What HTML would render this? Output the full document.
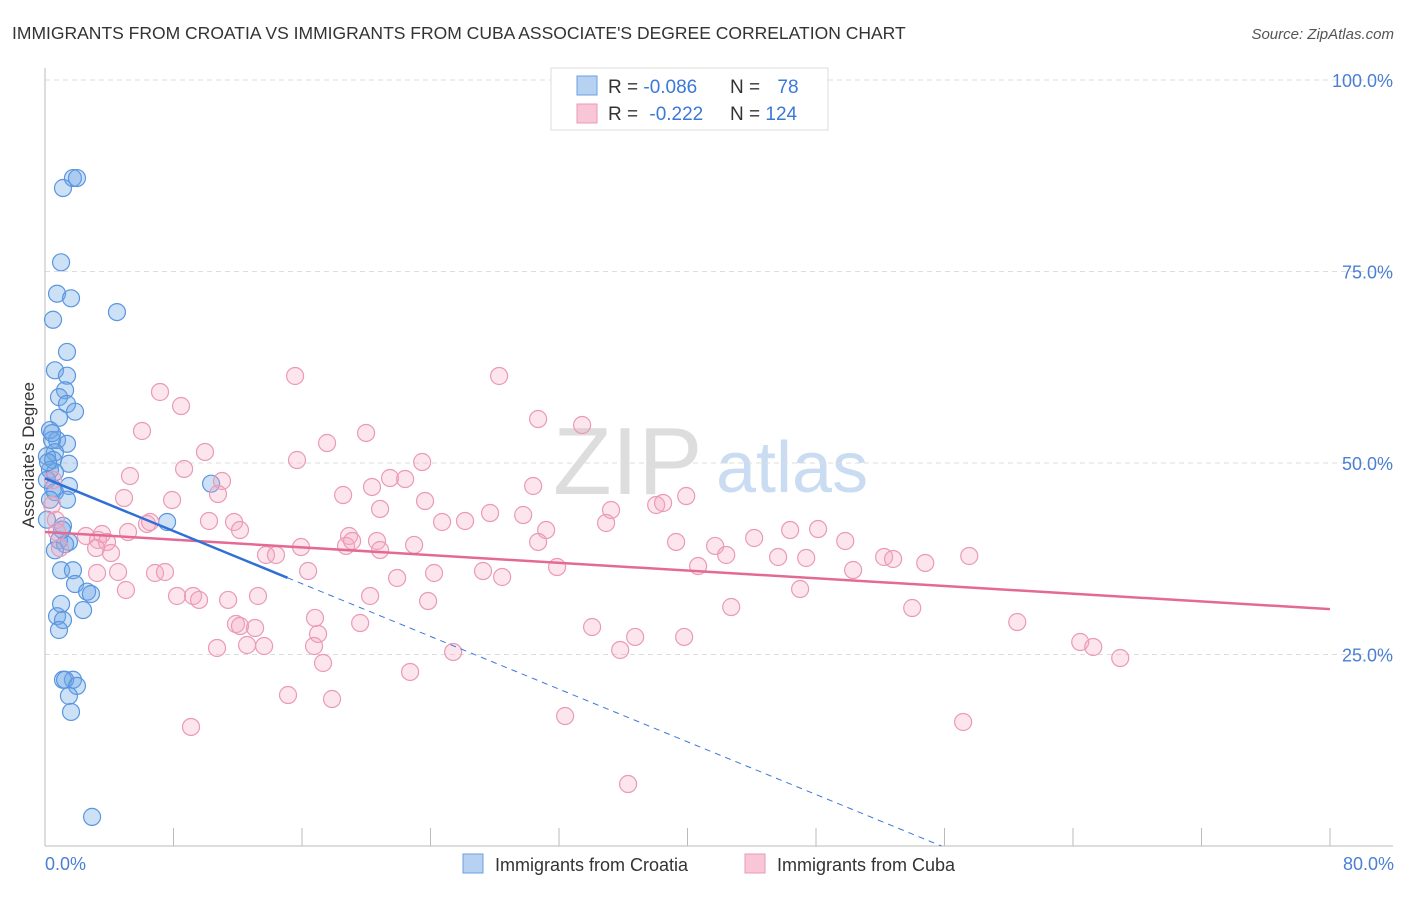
<!DOCTYPE html>
<html><head><meta charset="utf-8"><style>
body{margin:0;background:#fff;font-family:"Liberation Sans",sans-serif}
svg text{font-family:"Liberation Sans",sans-serif}
</style></head><body>
<svg id="chart" width="1406" height="892" viewBox="0 0 1406 892" xmlns="http://www.w3.org/2000/svg">
<text x="12" y="39" font-size="17.5" fill="#333">IMMIGRANTS FROM CROATIA VS IMMIGRANTS FROM CUBA ASSOCIATE'S DEGREE CORRELATION CHART</text>
<text x="1394" y="39" font-size="15" fill="#555" text-anchor="end" font-style="italic">Source: ZipAtlas.com</text>
<g>
<text x="553" y="494" font-size="96" fill="#ddd" font-family="Liberation Serif, serif">ZIP</text>
<text x="716" y="492" font-size="72" fill="#c9dcf2">atlas</text>
</g>
<g id="grid"></g>
<g id="axes"></g>
<g id="marks"></g>
<text transform="translate(34,455) rotate(-90)" font-size="17" fill="#333" text-anchor="middle">Associate's Degree</text>
<text x="45" y="870" font-size="18" fill="#4a7fd4">0.0%</text>
<text x="1394" y="870" font-size="18" fill="#4a7fd4" text-anchor="end">80.0%</text>
<g>
<rect x="551" y="68" width="277" height="62" fill="#fff" stroke="#ddd"/>
<rect x="577" y="76" width="20" height="19" fill="#b7d1f2" stroke="#6a9fe0"/>
<rect x="577" y="104" width="20" height="19" fill="#f8c6d6" stroke="#eb99b6"/>
<text x="608" y="93" font-size="19" fill="#333">R = <tspan fill="#3b78d8">-0.086</tspan></text>
<text x="730" y="93" font-size="19" fill="#333">N = <tspan fill="#3b78d8" dx="12">78</tspan></text>
<text x="608" y="120" font-size="19" fill="#333">R = <tspan fill="#3b78d8" dx="6">-0.222</tspan></text>
<text x="730" y="120" font-size="19" fill="#333">N = <tspan fill="#3b78d8">124</tspan></text>
</g>
<g>
<rect x="463" y="854" width="20" height="19" fill="#b7d1f2" stroke="#6a9fe0"/>
<text x="495" y="871" font-size="18" fill="#333">Immigrants from Croatia</text>
<rect x="745" y="854" width="20" height="19" fill="#f8c6d6" stroke="#eb99b6"/>
<text x="777" y="871" font-size="18" fill="#333">Immigrants from Cuba</text>
</g>
</svg>
<script>
const yTickValues=[25,50,75,100];
const yTickLabels=["25.0%","50.0%","75.0%","100.0%"];
const xTickValues=[0,8,16,24,32,40,48,56,64,72,80];
const croatiaX=[1.12,1.74,1.99,1.0,0.75,1.62,0.5,4.48,1.37,0.62,1.37,1.25,0.87,1.37,1.87,0.87,0.31,0.75,0.44,1.37,0.62,0.12,0.5,1.49,0.31,0.62,0.12,0.5,1.49,0.62,1.37,10.34,7.6,1.12,0.87,1.49,1.25,0.62,1.0,1.74,1.87,2.62,2.86,2.37,1.0,0.75,1.12,0.87,1.74,1.12,1.25,1.99,1.49,1.62,2.93,0.12,0.31,0.44,0.19,1.06];
const croatiaY=[85.9,87.2,87.2,76.2,72.1,71.5,68.7,69.7,64.5,62.1,61.4,59.5,58.6,57.7,56.7,55.9,54.3,53.0,53.0,52.5,51.4,50.9,50.4,49.9,49.1,48.8,47.8,46.7,47.0,46.2,45.2,47.3,42.3,41.8,39.9,39.7,39.4,38.6,36.0,36.0,34.2,33.2,32.9,30.8,31.6,30.0,29.5,28.2,21.7,21.7,21.7,20.9,19.6,17.5,3.8,42.6,45.2,53.9,50.1,41.3];
const cubaX=[7.16,8.47,6.04,9.96,8.66,5.29,11.02,10.77,4.92,7.91,6.35,6.54,10.21,11.77,12.14,3.55,5.17,0.68,0.75,0.44,0.5,0.93,2.55,3.30,3.86,3.18,4.11,4.55,3.24,5.04,6.85,7.47,8.22,9.22,9.59,11.40,11.89,13.26,13.76,14.38,15.94,16.38,12.14,13.08,12.58,10.71,13.64,9.09,15.69,15.57,17.56,18.56,19.99,20.36,20.86,21.48,22.42,20.67,20.86,18.93,21.92,22.98,23.48,23.66,24.22,23.85,24.72,26.15,27.71,27.27,28.46,29.77,30.39,31.20,30.70,31.88,28.27,30.70,33.44,35.24,34.93,34.06,35.81,36.74,38.05,38.48,39.92,39.29,39.79,41.72,42.41,40.66,42.72,44.15,46.39,47.39,45.64,47.01,48.13,49.82,50.31,52.24,52.80,54.80,53.99,57.54,60.53,64.45,65.26,66.94,57.16,32.38,36.30,25.41,22.73,17.31,17.87,15.13,20.24,19.62,17.00,16.75,16.81,18.74,19.12];
const cubaY=[59.27,57.44,54.18,51.44,49.22,48.30,47.65,45.95,45.43,45.17,42.04,42.30,42.43,42.30,41.25,40.73,40.99,42.56,40.99,44.52,47.78,38.90,40.47,39.95,39.69,38.90,38.25,35.77,35.64,33.42,35.64,35.77,32.64,32.64,32.12,32.12,28.98,32.64,37.99,37.99,39.03,35.90,28.72,28.46,26.24,25.85,26.11,15.54,50.39,61.36,52.61,45.82,53.92,46.87,44.00,48.04,47.91,39.82,38.64,40.47,34.99,39.30,50.13,45.04,35.64,31.98,42.30,42.43,43.47,35.90,35.12,43.21,47.00,41.25,39.69,36.42,61.36,55.74,54.96,43.86,42.17,28.59,25.59,27.29,44.52,44.78,45.69,39.69,27.29,39.17,37.99,36.55,31.20,40.21,41.25,37.60,37.73,33.55,41.38,39.82,36.03,37.73,37.47,36.95,31.07,37.86,29.24,26.63,25.98,24.54,16.19,16.97,8.09,25.33,22.72,23.89,19.19,19.71,32.64,29.11,27.68,26.11,29.77,39.17,39.82];
const croatiaTrend=[48.0,-0.86]; // intercept, slope
const croatiaSolidEnd=15.1;
const cubaTrend=[41.0,-0.126];

const NS="http://www.w3.org/2000/svg";
const X0=45,X1=1330,YB=846,YT=80;
function xs(v){return X0+v*(X1-X0)/80;}
function ys(v){return YB-v*(YB-YT)/100;}
function mk(parent,tag,attrs){const e=document.createElementNS(NS,tag);for(const k in attrs)e.setAttribute(k,attrs[k]);document.getElementById(parent).appendChild(e);return e;}

yTickValues.forEach((v,i)=>{
  const l=mk('grid','line',{x1:45,x2:1393,y1:ys(v),y2:ys(v),stroke:'#ddd','stroke-dasharray':'5,4'});
  
  
  const t=mk('grid','text',{x:1393,y:ys(v)+7,'font-size':18,fill:'#4a7fd4','text-anchor':'end'});
  t.textContent=yTickLabels[i];
  
  
});
const ya=mk('axes','line',{x1:45,x2:45,y1:68,y2:YB,stroke:'#bbb'});


const xa=mk('axes','line',{x1:45,x2:1393,y1:YB,y2:YB,stroke:'#bbb'});


xTickValues.forEach(v=>{
  const t=mk('axes','line',{x1:xs(v),x2:xs(v),y1:828,y2:YB,stroke:'#bbb'});
  
  
});

croatiaX.forEach((x,i)=>{
  const c=mk('marks','circle',{cx:xs(x),cy:ys(croatiaY[i]),r:8.5,fill:'rgba(110,165,230,0.35)',stroke:'#5a96e0','stroke-width':1.2});
  
  
});
cubaX.forEach((x,i)=>{
  const c=mk('marks','circle',{cx:xs(x),cy:ys(cubaY[i]),r:8.5,fill:'rgba(245,170,195,0.3)',stroke:'#ea9ab6','stroke-width':1.2});
  
  
});
function tr(t,x){return t[0]+t[1]*x;}
const cl=mk('marks','line',{x1:xs(0),y1:ys(tr(cubaTrend,0)),x2:xs(80),y2:ys(tr(cubaTrend,80)),stroke:'#e46a95','stroke-width':2.5});


const xEnd=-croatiaTrend[0]/croatiaTrend[1];
const bd=mk('marks','line',{x1:xs(croatiaSolidEnd),y1:ys(tr(croatiaTrend,croatiaSolidEnd)),x2:xs(xEnd),y2:ys(0),stroke:'#3b78d8','stroke-width':1,'stroke-dasharray':'6,5'});


const bl=mk('marks','line',{x1:xs(0),y1:ys(tr(croatiaTrend,0)),x2:xs(croatiaSolidEnd),y2:ys(tr(croatiaTrend,croatiaSolidEnd)),stroke:'#2f6fd6','stroke-width':2.5});


</script>
</body></html>
